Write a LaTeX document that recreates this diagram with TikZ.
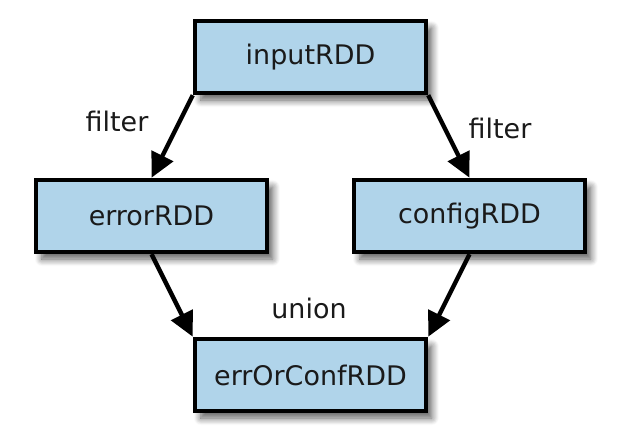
\documentclass[tikz,border=0pt]{standalone}
\usepackage{fontspec}
\setmainfont{DejaVu Sans}
\usetikzlibrary{arrows.meta,shadows.blur}
\definecolor{RddBlue}{RGB}{176,212,234}
\definecolor{InkGray}{RGB}{26,26,26}

\begin{document}
\begin{tikzpicture}[x=0.03cm,y=0.03cm,>={Triangle[length=21pt,width=20pt]},
    rdd/.style={draw=black,line width=3.8pt,fill=RddBlue,minimum width=231*0.03cm,
      minimum height=72*0.03cm,text=InkGray,font=\fontsize{23}{27}\selectfont,
      blur shadow={shadow xshift=5pt,shadow yshift=-6pt,shadow blur radius=6pt,
        shadow blur steps=10,shadow opacity=65}},
    op/.style={text=InkGray,font=\fontsize{23}{27}\selectfont},
    flow/.style={->,line width=3.8pt}]
      \useasboundingbox (0,0) rectangle (620,432);
      \node[rdd] (input) at (310.5,375) {inputRDD};
      \node[rdd] (error) at (151.5,216) {errorRDD};
      \node[rdd] (config) at (469.5,216) {configRDD};
      \node[rdd] (union) at (310.5,57) {errOrConfRDD};
      \draw[flow] (input.south west) -- (error.north);
      \draw[flow] (input.south east) -- (config.north);
      \draw[flow] (error.south) -- (union.north west);
      \draw[flow] (config.south) -- (union.north east);
      \node[op] (lfilter) at (117,311) {filter};
      \node[op] (rfilter) at (500,304) {filter};
      \node[op] (lunion) at (309,124) {union};
    \end{tikzpicture}
\end{document}
